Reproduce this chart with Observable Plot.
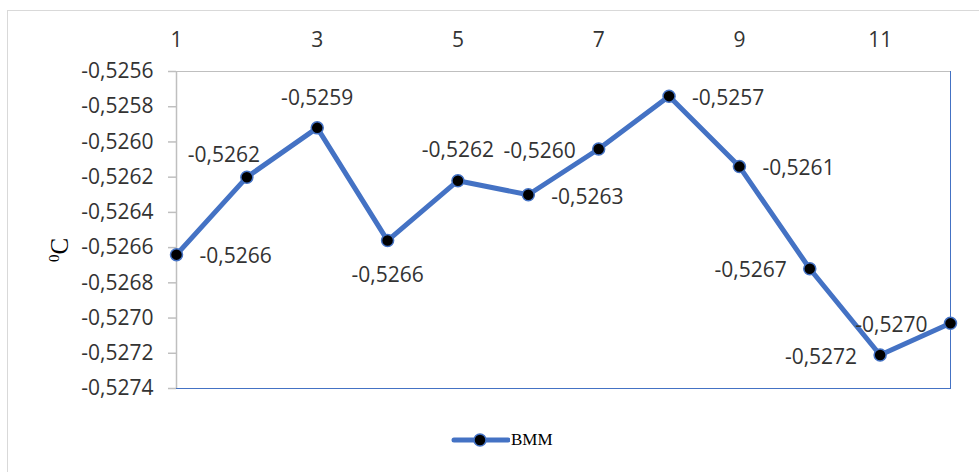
<!DOCTYPE html>
<html>
<head>
<meta charset="utf-8">
<script src="https://cdn.jsdelivr.net/npm/d3@7"></script>
<script src="https://cdn.jsdelivr.net/npm/@observablehq/plot@0.6"></script>
<style>
  html, body { margin: 0; padding: 0; background: #fff; overflow: hidden; }
  #wrap { position: relative; width: 979px; height: 472px; }
  #frame { position: absolute; left: 7px; top: 10px; width: 1000px; height: 500px; border: 1px solid #d9d9d9; box-sizing: border-box; }
  #chart { position: absolute; left: 0; top: 0; }
  #ylab { position: absolute; left: 60px; top: 250px; transform: translate(-50%, -50%) rotate(-90deg); font-family: "Liberation Serif", "DejaVu Serif", serif; font-size: 25px; color: #000; white-space: nowrap; }
  #ylab sup { font-size: 15px; }
  #legend { position: absolute; left: 450px; top: 428px; display: flex; align-items: center; font-family: "Liberation Serif", serif; font-size: 17px; color: #000; }
</style>
</head>
<body>
<div id="wrap">
  <div id="frame"></div>
  <div id="chart"></div>
  <div id="ylab"><sup>0</sup>C</div>
  <div id="legend">
    <svg width="60" height="24"><line x1="4" y1="12" x2="58" y2="12" stroke="#4472C4" stroke-width="5" stroke-linecap="round"/><circle cx="30" cy="12" r="6" fill="#000" stroke="#4472C4" stroke-width="1.5"/></svg>
    <span style="margin-left:1px">BMM</span>
  </div>
</div>
<script>
const points = [1, 2, 3, 4, 5, 6, 7, 8, 9, 10, 11, 12];
const values = [-0.52664, -0.52620, -0.52592, -0.52656, -0.52622, -0.52630, -0.52604, -0.52574, -0.52614, -0.52672, -0.52721, -0.52703];
const labelPlacement = ["right", "aboveleft", "above", "below", "above", "right", "left", "right", "right", "left", "left", "left"];
const xTicks = [1, 3, 5, 7, 9, 11];
const yTicks = [-0.5256, -0.5258, -0.5260, -0.5262, -0.5264, -0.5266, -0.5268, -0.5270, -0.5272, -0.5274];
const seriesName = "BMM";

const fmt = v => d3.format(".4f")(v).replace("\u2212", "-").replace(".", ",");
const data = points.map((p, i) => ({x: p, y: values[i], label: fmt(values[i]), pos: labelPlacement[i]}));

const font = "'Open Sans', 'Liberation Sans', sans-serif";
const textColor = "#333333";
const blue = "#4472C4";
const fs = 21;

const offsets = {
  right: {dx: 23, dy: 2, textAnchor: "start"},
  left: {dx: -23, dy: 2, textAnchor: "end"},
  above: {dx: 0, dy: -30, textAnchor: "middle"},
  aboveleft: {dx: -23, dy: -22, textAnchor: "middle"},
  below: {dx: 0, dy: 35, textAnchor: "middle"}
};

const labelMarks = Object.entries(offsets).map(([k, o]) =>
  Plot.text(data.filter(d => d.pos === k), {x: "x", y: "y", text: "label", dx: o.dx, dy: o.dy, textAnchor: o.textAnchor, fill: textColor, fontSize: fs, fontFamily: font})
);

const chart = Plot.plot({
  width: 979,
  height: 472,
  marginLeft: 176,
  marginRight: 29,
  marginTop: 71,
  marginBottom: 84,
  style: {background: "transparent", fontFamily: font, color: textColor},
  x: {domain: [1, 12]},
  y: {domain: [-0.5274, -0.5256]},
  marks: [
    Plot.frame({anchor: "top", stroke: "#bfbfbf", strokeOpacity: 1}),
    Plot.frame({anchor: "right", stroke: blue, strokeOpacity: 1}),
    Plot.frame({anchor: "bottom", stroke: blue, strokeOpacity: 1}),
    Plot.axisX({anchor: "top", ticks: xTicks, tickSize: 0, tickPadding: 25, label: null, fontSize: fs, fill: textColor, tickFormat: d => String(d)}),
    Plot.axisY({ticks: yTicks, tickSize: 8, tickPadding: 15, label: null, fontSize: fs, fill: textColor, stroke: "#bfbfbf", strokeWidth: 1.5, tickFormat: fmt}),
    Plot.ruleX([1], {stroke: "#bfbfbf", strokeWidth: 1.5}),
    Plot.line(data, {x: "x", y: "y", stroke: blue, strokeWidth: 5, strokeLinejoin: "round"}),
    Plot.dot(data, {x: "x", y: "y", r: 6, fill: "#000", stroke: blue, strokeWidth: 1.5}),
    ...labelMarks
  ]
});
document.getElementById("chart").appendChild(chart);
</script>
</body>
</html>
